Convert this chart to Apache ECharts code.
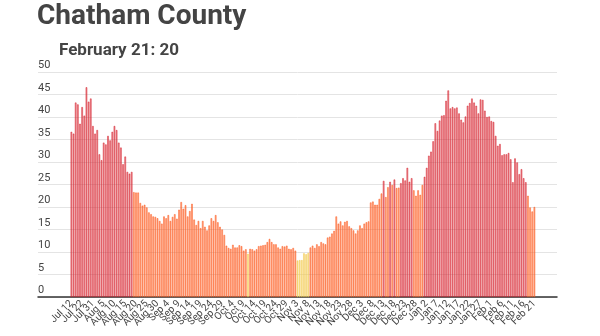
<!DOCTYPE html>
<html>
<head>
<meta charset="utf-8">
<script src="https://cdn.jsdelivr.net/npm/echarts@6/dist/echarts.min.js"></script>
<style>
  html, body { margin: 0; padding: 0; background: #fff; }
  #chart { width: 600px; height: 336px; }
</style>
</head>
<body>
<div id="chart"></div>
<script>
// Daily values, Chatham County (Jul 12 – Feb 21)
const julAug = [36.7, 36.3, 43.2, 42.8, 38.5, 42.2, 40.3, 46.6, 43.4, 44.1, 38.0, 36.3, 37.1, 31.7, 30.4,
  34.3, 33.9, 35.8, 34.8, 36.7, 38.0, 37.1, 34.3, 33.2, 29.5, 31.2, 27.8, 27.4, 27.8, 23.3, 23.2, 23.2,
  20.9, 20.3, 20.5, 19.9, 18.8, 18.4, 17.9, 17.8, 17.5, 16.9];
const sep = [16.3, 17.9, 17.5, 18.2, 16.9, 17.8, 18.4, 17.4, 19.4, 21.1, 19.6, 20.4, 17.9, 19.1, 20.7,
  17.2, 16.0, 16.9, 15.3, 16.9, 15.6, 14.8, 15.9, 17.5, 16.9, 18.2, 16.6, 15.6, 15.0, 13.8];
const oct = [11.4, 10.9, 10.7, 11.6, 11.0, 11.0, 11.5, 11.3, 10.3, 10.6, 9.6, 10.7, 10.6, 10.3, 10.6,
  11.3, 11.4, 11.5, 11.6, 12.2, 12.9, 12.2, 11.7, 11.7, 11.0, 10.7, 11.3, 11.2, 11.4, 10.7, 10.6];
const nov = [10.9, 10.3, 8.1, 8.2, 8.2, 9.7, 9.5, 9.8, 11.0, 11.4, 10.9, 11.7, 11.3, 12.2, 11.9, 11.7,
  13.2, 13.4, 14.1, 14.7, 17.9, 16.3, 16.8, 15.9, 16.7, 16.9, 15.7, 15.3, 14.8, 14.1];
const dec = [14.8, 15.9, 15.3, 16.3, 16.6, 16.8, 21.0, 21.2, 20.5, 20.5, 21.8, 23.0, 25.8, 22.2, 24.4,
  25.6, 24.9, 26.1, 24.2, 24.3, 25.3, 26.4, 25.9, 28.7, 25.6, 26.4, 23.7, 22.5, 23.7, 22.7, 24.9];
const jan = [26.7, 28.7, 31.4, 32.3, 34.6, 38.6, 36.9, 39.2, 40.3, 40.4, 43.6, 45.9, 41.9, 42.2, 41.9,
  42.1, 40.8, 39.4, 38.8, 40.1, 42.5, 43.1, 44.1, 43.2, 42.5, 40.8, 43.9, 43.8, 41.4, 40.0, 40.1];
const feb = [39.1, 38.9, 35.8, 33.6, 34.0, 31.5, 31.7, 31.7, 32.0, 30.6, 25.5, 30.8, 29.9, 27.3, 28.4,
  26.4, 25.5, 22.5, 19.9, 19.0, 20.0];

// Date categories: the first stretch has gaps, then one bar per day from Aug 5
const earlyDates = ['Jul 12', 'Jul 14', 'Jul 16', 'Jul 18', 'Jul 20', 'Jul 22', 'Jul 24', 'Jul 26',
  'Jul 28', 'Jul 30', 'Jul 31', 'Aug 1', 'Aug 2', 'Aug 3', 'Aug 4'];
const dailyRuns = [['Aug', 5, 31], ['Sep', 1, 30], ['Oct', 1, 31], ['Nov', 1, 30], ['Dec', 1, 31],
  ['Jan', 1, 31], ['Feb', 1, 21]];
const yTicks = [0, 5, 10, 15, 20, 25, 30, 35, 40, 45, 50];

const titleText = 'Chatham County';
const latestLabel = 'February 21';

const dates = earlyDates.slice();
dailyRuns.forEach(([m, a, b]) => { for (let d = a; d <= b; d++) dates.push(m + ' ' + d); });
const values = [].concat(julAug, sep, oct, nov, dec, jan, feb);

// Empty slots at both ends of the axis (unique keys so they stay separate categories)
const PAD_BEFORE = 15, PAD_AFTER = 10;
const axisCats = [];
for (let i = 0; i < PAD_BEFORE; i++) axisCats.push('pre' + i);
dates.forEach(d => axisCats.push(d));
for (let i = 0; i < PAD_AFTER; i++) axisCats.push('post' + i);
const LAST_SLOT = axisCats.length - 1;
const isDateSlot = (idx) => idx >= PAD_BEFORE && idx < PAD_BEFORE + dates.length;

const palette = {
  high: { line: '#d7222e', fill: 'rgba(215,34,46,0.52)' },
  mid:  { line: '#fd5a1e', fill: 'rgba(253,90,30,0.55)' },
  low:  { line: '#f2c94c', fill: 'rgba(242,201,76,0.6)' }
};
function band(v) { return v >= 25 ? palette.high : (v >= 10 ? palette.mid : palette.low); }

const barData = [];
for (let i = 0; i < PAD_BEFORE; i++) barData.push('-');
values.forEach(v => {
  const c = band(v);
  barData.push({ value: v, itemStyle: { color: c.fill, borderColor: c.line, borderWidth: 0.5 } });
});
for (let i = 0; i < PAD_AFTER; i++) barData.push('-');

const chart = echarts.init(document.getElementById('chart'), null, { renderer: 'canvas' });
chart.setOption({
  animation: false,
  backgroundColor: '#ffffff',
  textStyle: { fontFamily: 'Roboto' },
  title: [
    { text: titleText, left: 32, top: -2,
      textStyle: { fontSize: 28, fontWeight: 'bold', color: '#444444', fontFamily: 'Roboto' } },
    { text: latestLabel + ': ' + values[values.length - 1], left: 54, top: 37,
      textStyle: { fontSize: 17, fontWeight: 'bold', color: '#444444', fontFamily: 'Roboto' } }
  ],
  grid: { left: 38, right: 43, top: 72, bottom: 39, containLabel: false },
  xAxis: {
    type: 'category',
    data: axisCats,
    boundaryGap: true,
    axisLine: { show: true, lineStyle: { color: '#333333', width: 1.5 } },
    axisTick: { show: false },
    axisLabel: {
      rotate: 45,
      fontSize: 10,
      color: '#444444',
      margin: 5,
      hideOverlap: false,
      // the blank end slots carry empty labels so every date label stays visible
      interval: (idx) => idx === 0 || idx === LAST_SLOT ||
        (isDateSlot(idx) && (idx - PAD_BEFORE) % 5 === 0),
      formatter: (val, idx) => (isDateSlot(idx) ? val : '')
    },
    splitLine: { show: false }
  },
  yAxis: {
    type: 'value',
    min: yTicks[0],
    max: yTicks[yTicks.length - 1],
    interval: 5,
    axisLine: { show: false },
    axisTick: { show: false },
    axisLabel: {
      inside: true,
      margin: 0,
      fontSize: 11,
      color: '#444444',
      verticalAlign: 'bottom',
      padding: [0, 0, 1, 0]
    },
    splitLine: { show: true, lineStyle: { color: '#e4e4e4', width: 1 } }
  },
  series: [{
    type: 'bar',
    data: barData,
    barCategoryGap: '30%'
  }]
});
</script>
</body>
</html>
